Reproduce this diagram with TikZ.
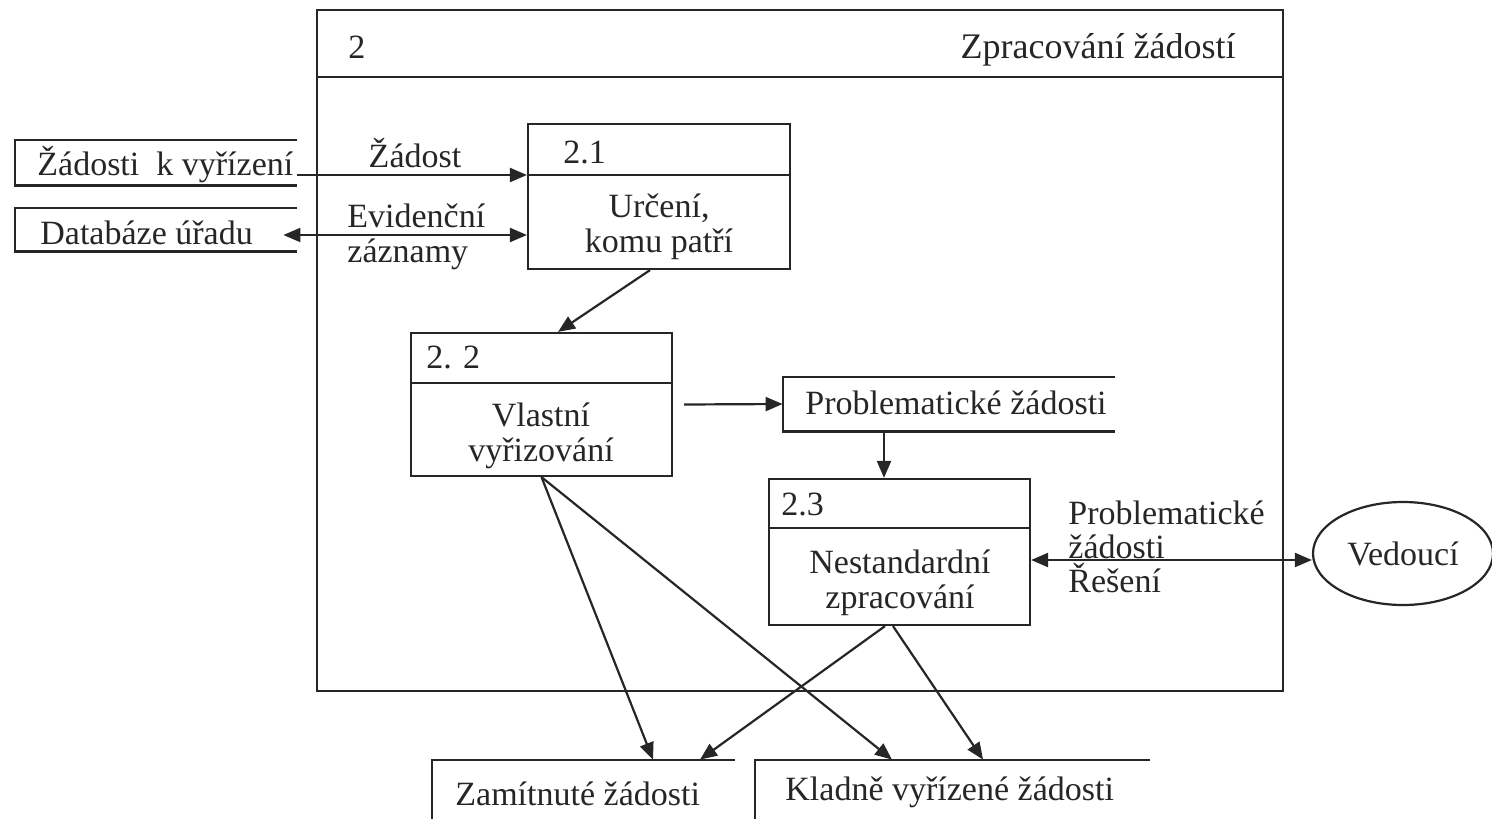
\documentclass[tikz,border=0pt]{standalone}
\usepackage{fontspec}
\setmainfont{Liberation Serif}
\usetikzlibrary{arrows.meta,shapes.geometric}
\begin{document}
\begin{tikzpicture}[x=0.5pt,y=-0.5pt,
  every node/.style={font=\fontsize{17}{17.5}\selectfont, inner sep=0pt, text=black!85},
  ln/.style={line width=1.1pt, draw=black!85},
  proc/.style={draw=black!85, line width=1.1pt, rectangle, inner sep=0pt},
  area/.style={rectangle, draw=none, inner sep=0pt},
  tip/.tip={Triangle[length=8.5pt,width=7pt]},
  flow/.style={line width=1.1pt, draw=black!85, -tip},
  bflow/.style={line width=1.1pt, draw=black!85, tip-tip},
  txt/.style={anchor=base west},
  body/.style={align=center},
]
\useasboundingbox (0,0) rectangle (1492,819);

% outer process
\node[proc, minimum width=483pt, minimum height=340.5pt] (outer) at (800,350.5) {};
\draw[ln] (317,77) -- (1283,77);
\node[txt] (n2) at (348,58) {2};
\node[anchor=base east, font=\fontsize{18}{19}\selectfont] (title) at (1236,58) {Zpracování žádostí};

% external stores
\node[area, minimum width=141pt, minimum height=22.5pt] (s1) at (156,162.5) {};
\draw[ln] (s1.north east) -- (s1.north west) -- (s1.south west) -- (s1.south east);
\node[txt] (t1) at (37,175) {Žádosti\ \ k vyřízení};

\node[area, minimum width=141pt, minimum height=21.5pt] (s2) at (156,229.5) {};
\draw[ln] (s2.north east) -- (s2.north west) -- (s2.south west) -- (s2.south east);
\node[txt] (t2) at (40,244) {Databáze úřadu};

% process 2.1
\node[proc, minimum width=131pt, minimum height=72.5pt] (b21) at (659,196.5) {};
\draw[ln] (528,175) -- (790,175);
\node[txt] (n21) at (563,163) {2.1};
\node[body] (t21) at (659,227) {Určení,\\komu patří};

% process 2.2
\node[proc, minimum width=130.5pt, minimum height=71.5pt] (b22) at (541.5,404.5) {};
\draw[ln] (411,383) -- (672,383);
\node[txt] (n22) at (426,368) {2. 2};
\node[body] (t22) at (541,436) {Vlastní\\vyřizování};

% process 2.3
\node[proc, minimum width=130.5pt, minimum height=73pt] (b23) at (899.5,552) {};
\draw[ln] (769,528) -- (1030,528);
\node[txt] (n23) at (781,515) {2.3};
\node[body] (t23) at (900,583) {Nestandardní\\zpracování};

% store problematic
\node[area, minimum width=166pt, minimum height=27pt] (sP) at (949,404) {};
\draw[ln] (sP.north east) -- (sP.north west) -- (sP.south west) -- (sP.south east);
\node[txt] (tP) at (805,414) {Problematické žádosti};

% bottom stores
\node[area, minimum width=151.5pt, minimum height=29.5pt] (sZ) at (583.5,789.5) {};
\draw[ln] (sZ.north east) -- (sZ.north west) -- (sZ.south west);
\node[txt] (tZ) at (455,805) {Zamítnuté žádosti};

\node[area, minimum width=197.5pt, minimum height=29.5pt] (sK) at (952.5,789.5) {};
\draw[ln] (sK.north east) -- (sK.north west) -- (sK.south west);
\node[txt] (tK) at (785,800) {Kladně vyřízené žádosti};

% external entity
\node[ellipse, draw=black!85, line width=1.1pt, minimum width=90pt, minimum height=51.5pt] (ve) at (1403,553.5) {Vedoucí};

% connectors
\draw[flow] ([yshift=-6.25pt]s1.east) -- ([yshift=10.75pt]b21.west);
\node[anchor=base] (lZ) at (415,167) {Žádost};

\draw[bflow] ([yshift=-19.25pt]b21.west) -- ([xshift=-7pt,yshift=-2.75pt]s2.east);
\node[txt] (lE1) at (347,227) {Evidenční};
\node[txt] (lE2) at (347,262) {záznamy};

\draw[flow] ([xshift=-4.5pt]b21.south) -- ([xshift=8.25pt]b22.north);
\draw[flow] ([xshift=5.5pt]b22.east) -- (sP.west);
\draw[flow] ([xshift=-32.5pt]sP.south) -- ([xshift=-7.75pt]b23.north);

\coordinate (r23) at ([yshift=-4pt]b23.east);
\draw[bflow] (r23) -- (r23 -| ve.west);
\node[txt] (lP1) at (1068,524) {Problematické};
\node[txt] (lP2) at (1068,558) {žádosti};
\node[txt] (lP3) at (1068,592) {Řešení};

\draw[flow] (b22.south) -- ([xshift=34.75pt]sZ.north);
\draw[flow] (b22.south) -- ([xshift=-30.25pt]sK.north);
\draw[flow] ([xshift=-7.25pt]b23.south) -- ([xshift=58.25pt]sZ.north);
\draw[flow] ([xshift=-3.25pt]b23.south) -- ([xshift=15.25pt]sK.north);
\end{tikzpicture}
\end{document}
